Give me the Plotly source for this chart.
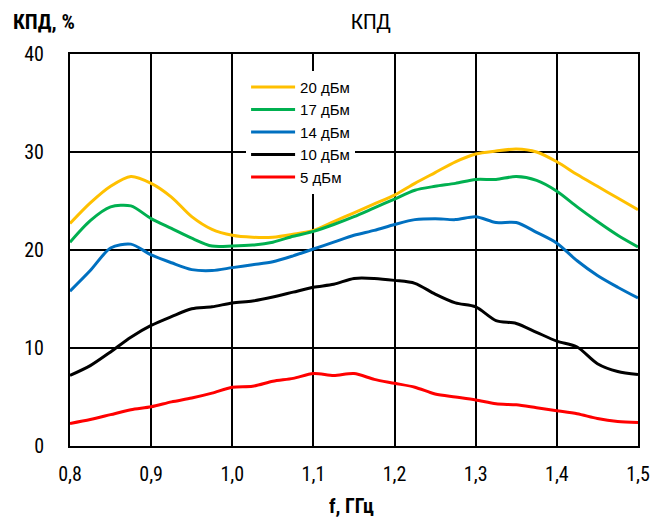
import plotly.graph_objects as go

freq = [0.800, 0.825, 0.850, 0.875, 0.900, 0.925, 0.950, 0.975, 1.000, 1.025,
        1.050, 1.075, 1.100, 1.125, 1.150, 1.175, 1.200, 1.225, 1.250, 1.275,
        1.300, 1.325, 1.350, 1.375, 1.400, 1.425, 1.450, 1.475, 1.500]

eff_20 = [22.7, 24.8, 26.5, 27.5, 26.8, 25.4, 23.4, 22.1, 21.5, 21.3,
          21.3, 21.6, 22.0, 22.9, 23.8, 24.7, 25.6, 26.8, 27.9, 29.0,
          29.8, 30.1, 30.3, 30.0, 29.0, 27.7, 26.5, 25.3, 24.1]
eff_17 = [20.8, 23.0, 24.4, 24.5, 23.2, 22.2, 21.2, 20.4, 20.4, 20.5,
          20.8, 21.4, 21.9, 22.6, 23.4, 24.3, 25.2, 26.1, 26.5, 26.8,
          27.2, 27.2, 27.5, 27.1, 26.0, 24.4, 22.9, 21.5, 20.3]
eff_14 = [15.8, 17.9, 20.2, 20.6, 19.5, 18.7, 18.0, 17.9, 18.2, 18.5,
          18.8, 19.4, 20.1, 20.8, 21.5, 22.0, 22.6, 23.1, 23.2, 23.1,
          23.4, 22.8, 22.8, 21.8, 20.7, 18.9, 17.4, 16.2, 15.1]
eff_10 = [7.2, 8.2, 9.6, 11.1, 12.3, 13.2, 14.0, 14.2, 14.6, 14.8,
          15.2, 15.7, 16.2, 16.5, 17.1, 17.1, 16.9, 16.6, 15.5, 14.6,
          14.2, 12.8, 12.5, 11.6, 10.7, 10.1, 8.4, 7.6, 7.3]
eff_5 = [2.3, 2.7, 3.2, 3.7, 4.0, 4.5, 4.9, 5.4, 6.0, 6.1,
         6.6, 6.9, 7.4, 7.2, 7.4, 6.8, 6.4, 6.0, 5.3, 5.0,
         4.7, 4.3, 4.2, 3.9, 3.6, 3.3, 2.8, 2.5, 2.4]

series_names = ["20 дБм", "17 дБм", "14 дБм", "10 дБм", "5 дБм"]
series_values = [eff_20, eff_17, eff_14, eff_10, eff_5]
series_colors = ["#FFC000", "#00B050", "#0070C0", "#000000", "#FF0000"]

x_ticks = [0.8, 0.9, 1.0, 1.1, 1.2, 1.3, 1.4, 1.5]
y_ticks = [0, 10, 20, 30, 40]

NARROW = "Liberation Sans Narrow, Arial Narrow, Roboto Condensed, sans-serif"

fig = go.Figure()
for name, vals, col in zip(series_names, series_values, series_colors):
    fig.add_trace(go.Scatter(x=freq, y=vals, name=name, mode="lines",
                             line=dict(color=col, width=3, shape="spline", smoothing=0.8)))

fig.update_layout(
    width=665, height=522,
    margin=dict(l=70, r=27, t=54, b=76),
    paper_bgcolor="white", plot_bgcolor="white",
    separators=", ",
    font=dict(family=NARROW, size=20, color="black"),
    showlegend=True,
    legend=dict(x=0.31, y=0.957, xanchor="left", yanchor="top",
                bgcolor="white", font=dict(family="Liberation Sans, Arial, sans-serif", size=15),
                tracegroupgap=0, itemwidth=44),
)
fig.update_xaxes(range=[0.8, 1.5], tickvals=x_ticks, tickformat=".1f",
                 showgrid=True, gridcolor="black", gridwidth=2,
                 showline=True, linecolor="black", linewidth=2, mirror=True,
                 ticks="", ticklabelstandoff=9, zeroline=False,
                 tickfont=dict(family=NARROW, size=20))
fig.update_yaxes(range=[0, 40], tickvals=y_ticks,
                 showgrid=True, gridcolor="black", gridwidth=2,
                 showline=True, linecolor="black", linewidth=2, mirror=True,
                 ticks="", ticklabelstandoff=20, zeroline=False,
                 tickfont=dict(family=NARROW, size=20))

fig.add_annotation(text="КПД", xref="paper", yref="paper", x=0.53, y=1.082,
                   xanchor="center", yanchor="middle", showarrow=False,
                   font=dict(family="Carlito, Liberation Sans, sans-serif", size=22))
fig.add_annotation(text="<b>КПД, %</b>", xref="paper", yref="paper", x=-0.104, y=1.082,
                   xanchor="left", yanchor="middle", showarrow=False,
                   font=dict(family=NARROW, size=21))
fig.add_annotation(text="<b>f, ГГц</b>", xref="paper", yref="paper", x=0.496, y=-0.153,
                   xanchor="center", yanchor="middle", showarrow=False,
                   font=dict(family=NARROW, size=20))

fig.write_html("out.html", config={"displayModeBar": False},
               post_script="document.body.style.margin='0';")
